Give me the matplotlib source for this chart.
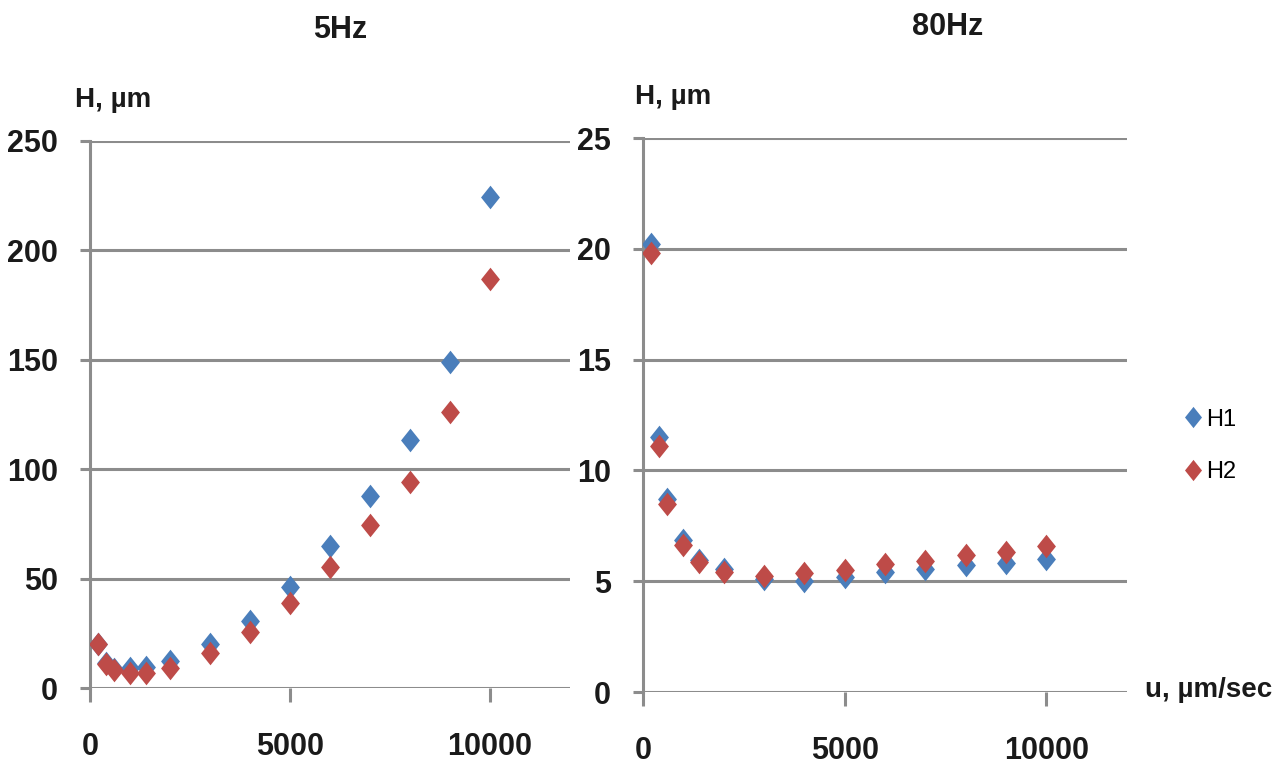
import matplotlib
matplotlib.use("Agg")
import matplotlib.pyplot as plt
from matplotlib.ticker import MultipleLocator

plt.rcParams['font.family'] = ['Liberation Sans', 'DejaVu Sans']

# Data: velocity u (µm/sec)
u = [200, 400, 600, 1000, 1400, 2000, 3000, 4000, 5000, 6000, 7000, 8000, 9000, 10000]

# 5 Hz
h1_5 = [20, 11.5, 8.5, 9.3, 9.5, 12.3, 20, 30.7, 46, 64.8, 87.8, 113.5, 148.8, 224.5]
h2_5 = [20, 11, 8.2, 7, 7, 9.2, 16, 25.6, 39, 55.4, 74.6, 94, 126, 187]

# 80 Hz
h1_80 = [20.2, 11.5, 8.7, 6.85, 5.95, 5.55, 5.1, 5.0, 5.2, 5.4, 5.55, 5.72, 5.8, 6.02]
h2_80 = [19.8, 11.1, 8.5, 6.65, 5.85, 5.42, 5.25, 5.35, 5.5, 5.77, 5.92, 6.17, 6.32, 6.6]

titles = ["5Hz", "80Hz"]
series_labels = ["H1", "H2"]

blue = "#4a7ebb"
red = "#be4b48"
grid_c = "#8c8c8c"
txt_c = "#1a1a1a"

diamond = [(0, 1), (0.8, 0), (0, -1), (-0.8, 0), (0, 1)]

W, H = 1286, 769
fig = plt.figure(figsize=(W / 100, H / 100), dpi=100)

ax1 = fig.add_axes([90 / W, 1 - 688 / H, 480 / W, (688 - 141) / H])
ax2 = fig.add_axes([643 / W, 1 - 692 / H, 484 / W, (692 - 138) / H])

def style(ax, ymax, ystep):
    ax.set_xlim(0, 12000)
    ax.set_ylim(0, ymax)
    ax.yaxis.set_major_locator(MultipleLocator(ystep))
    ax.set_xticks([0, 5000, 10000])
    for s in ['top', 'right', 'bottom']:
        ax.spines[s].set_visible(False)
    ax.spines['left'].set_color(grid_c)
    ax.spines['left'].set_linewidth(2.2)
    ax.grid(axis='y', color=grid_c, linewidth=2.2)
    ax.set_axisbelow(True)
    ax.tick_params(axis='y', length=7, width=2.2, color=grid_c, pad=16,
                   labelsize=22)
    ax.tick_params(axis='x', length=10, width=2.2, color=grid_c, pad=22,
                   labelsize=22)
    for lab in ax.get_xticklabels() + ax.get_yticklabels():
        lab.set_fontweight('bold')
        lab.set_color(txt_c)
    ax.patch.set_alpha(0)

def plot(ax, a, b):
    l1, = ax.plot(u, a, linestyle='none', marker=diamond, markersize=17,
                  color=blue, markeredgewidth=0, label=series_labels[0], zorder=3)
    l2, = ax.plot(u, b, linestyle='none', marker=diamond, markersize=17,
                  color=red, markeredgewidth=0, label=series_labels[1], zorder=4)
    return l1, l2

style(ax1, 250, 50)
style(ax2, 25, 5)
plot(ax1, h1_5, h2_5)
l1, l2 = plot(ax2, h1_80, h2_80)

fig.text(340 / W, 1 - 30 / H, titles[0], ha='center', va='center',
         fontsize=22, fontweight='bold', color=txt_c)
fig.text(948 / W, 1 - 27 / H, titles[1], ha='center', va='center',
         fontsize=22, fontweight='bold', color=txt_c)
fig.text(75 / W, 1 - 100 / H, "H, µm", ha='left', va='center',
         fontsize=20, fontweight='bold', color=txt_c)
fig.text(635 / W, 1 - 97 / H, "H, µm", ha='left', va='center',
         fontsize=20, fontweight='bold', color=txt_c)
fig.text(1145 / W, 1 - 690 / H, "u, µm/sec", ha='left', va='center',
         fontsize=20, fontweight='bold', color=txt_c)

leg = fig.legend([l1, l2], series_labels, loc='center left',
                 bbox_to_anchor=(1160 / W, 1 - 446 / H), frameon=False,
                 fontsize=17, handletextpad=0.05, labelspacing=1.3,
                 handlelength=1.0, markerscale=0.9)

fig.savefig("out.png", dpi=100)
